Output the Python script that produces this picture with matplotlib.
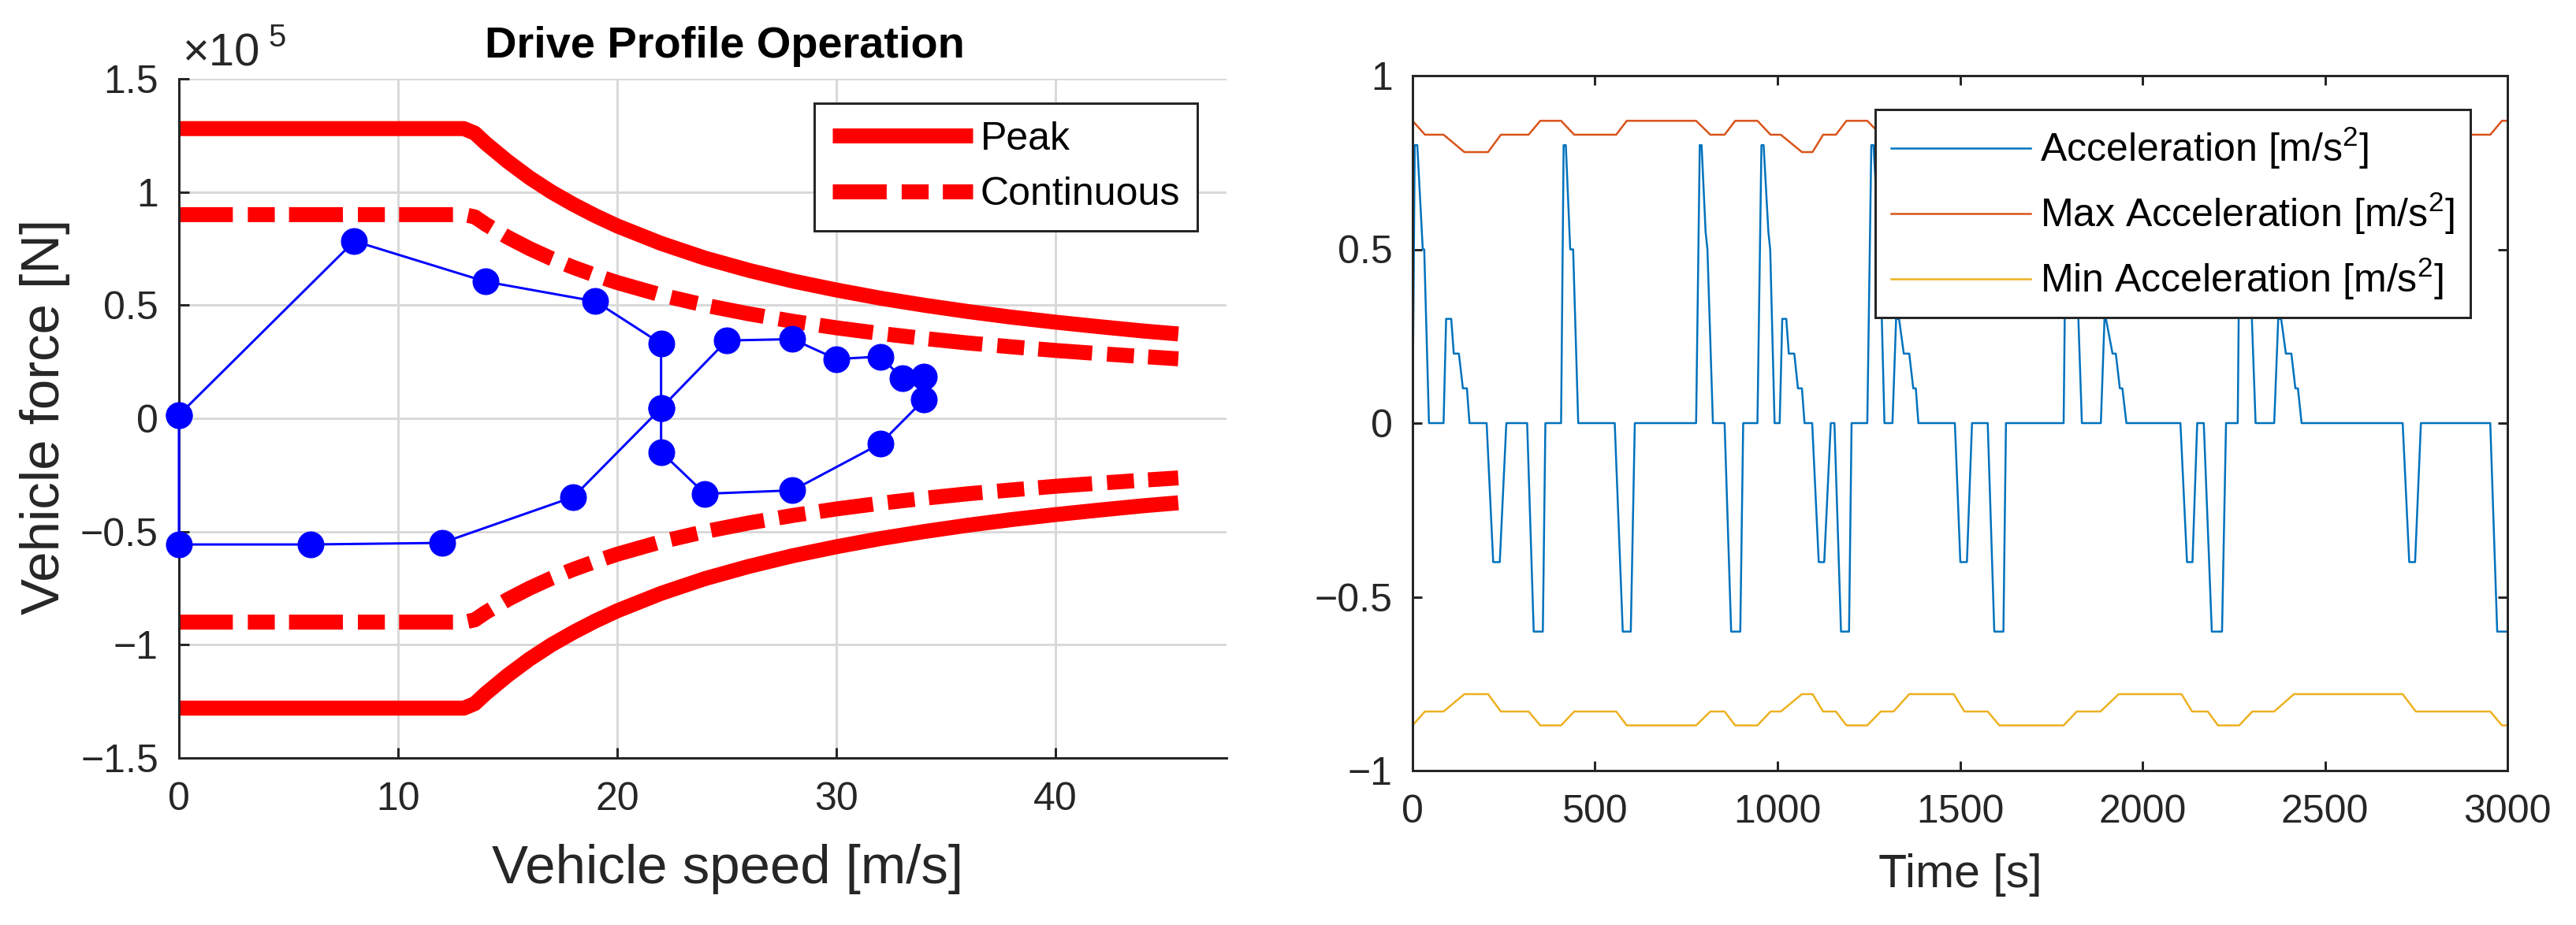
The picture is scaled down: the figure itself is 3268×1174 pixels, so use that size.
import matplotlib
matplotlib.use("Agg")
import matplotlib.pyplot as plt

# ---- Left: drive profile operation (force in 1e5 N) ----
limit_speed = [0, 13.0, 13.5, 14, 15, 16, 17, 18, 19, 20, 22, 24, 26, 28, 30,
               32, 34, 36, 38, 40, 42, 44, 45.6]
peak_force = [1.28, 1.28, 1.26, 1.215, 1.135, 1.063, 1.0, 0.945, 0.895, 0.85,
              0.773, 0.708, 0.654, 0.607, 0.567, 0.531, 0.50, 0.472, 0.447,
              0.425, 0.405, 0.386, 0.373]
cont_force = [0.90, 0.90, 0.89, 0.857, 0.80, 0.75, 0.706, 0.667, 0.632, 0.60,
              0.545, 0.50, 0.462, 0.429, 0.40, 0.375, 0.353, 0.333, 0.316,
              0.30, 0.286, 0.273, 0.263]

profile_speed = [0, 8, 14, 19, 22, 22, 25, 28, 30, 32, 33, 34, 34, 32, 28, 24,
                 22, 22, 18, 12, 6, 0, 0]
profile_force = [0.015, 0.783, 0.604, 0.517, 0.33, 0.045, 0.344, 0.35, 0.262,
                 0.273, 0.178, 0.184, 0.083, -0.112, -0.318, -0.333, -0.148,
                 0.045, -0.347, -0.55, -0.557, -0.557, 0.015]

force_ticks = [-1.5, -1, -0.5, 0, 0.5, 1, 1.5]
force_ticklabels = ["\u22121.5", "\u22121", "\u22120.5", "0", "0.5", "1", "1.5"]
speed_ticks = [0, 10, 20, 30, 40]

# ---- Right: acceleration vs time ----
acc_time = [0, 6, 13, 28, 32, 45, 85, 92, 106, 113, 127, 138, 149, 156,
            203, 221, 239, 257, 314, 332, 357, 364, 407, 414, 420, 432, 440, 454,
            554, 576, 598, 609, 777, 787, 792, 803, 808, 823, 855, 873, 898, 906,
            945, 956, 962, 975, 980, 992, 1006, 1013, 1024, 1031, 1046, 1056, 1067, 1074,
            1095, 1113, 1128, 1146, 1156, 1174, 1196, 1203,
            1246, 1257, 1263, 1276, 1281, 1293, 1315, 1325, 1333, 1346, 1361, 1372, 1379, 1386,
            1486, 1501, 1519, 1533, 1576, 1594, 1619, 1626,
            1784, 1792, 1798, 1813, 1818, 1834,
            1886, 1896, 1900, 1918, 1927, 1938, 1945, 1956,
            2104, 2122, 2137, 2150, 2168, 2190, 2218, 2229,
            2261, 2268, 2274, 2288, 2293, 2310,
            2361, 2372, 2380, 2393, 2408, 2419, 2426, 2436,
            2713, 2731, 2747, 2763, 2953, 2972, 3000]
acc_value = [0, 0.8, 0.8, 0.5, 0.5, 0, 0, 0.3, 0.3, 0.2, 0.2, 0.1, 0.1, 0,
             0, -0.4, -0.4, 0, 0, -0.6, -0.6, 0, 0, 0.8, 0.8, 0.5, 0.5, 0,
             0, -0.6, -0.6, 0, 0, 0.8, 0.8, 0.55, 0.5, 0, 0, -0.6, -0.6, 0,
             0, 0.8, 0.8, 0.55, 0.5, 0, 0, 0.3, 0.3, 0.2, 0.2, 0.1, 0.1, 0,
             0, -0.4, -0.4, 0, 0, -0.6, -0.6, 0,
             0, 0.8, 0.8, 0.55, 0.5, 0, 0, 0.3, 0.3, 0.2, 0.2, 0.1, 0.1, 0,
             0, -0.4, -0.4, 0, 0, -0.6, -0.6, 0,
             0, 0.8, 0.8, 0.55, 0.5, 0,
             0, 0.3, 0.3, 0.2, 0.2, 0.1, 0.1, 0,
             0, -0.4, -0.4, 0, 0, -0.6, -0.6, 0,
             0, 0.8, 0.8, 0.55, 0.5, 0,
             0, 0.3, 0.3, 0.2, 0.2, 0.1, 0.1, 0,
             0, -0.4, -0.4, 0, 0, -0.6, -0.6]

limit_time = [0, 34, 85, 142, 207, 242, 318, 350, 407, 443, 558, 587, 777, 816,
              855, 884, 945, 981, 1009, 1067, 1096, 1125, 1160, 1189, 1246, 1283,
              1318, 1361, 1483, 1512, 1576, 1608, 1784, 1820, 1885, 1935, 2107,
              2136, 2179, 2207, 2265, 2301, 2361, 2415, 2713, 2749, 2953, 2985, 3000]
max_acc = [0.87, 0.83, 0.83, 0.78, 0.78, 0.83, 0.83, 0.87, 0.87, 0.83, 0.83,
           0.87, 0.87, 0.83, 0.83, 0.87, 0.87, 0.83, 0.83, 0.78, 0.78, 0.83,
           0.83, 0.87, 0.87, 0.83, 0.83, 0.78, 0.78, 0.83, 0.83, 0.87, 0.87,
           0.83, 0.83, 0.78, 0.78, 0.83, 0.83, 0.87, 0.87, 0.83, 0.83, 0.78,
           0.78, 0.83, 0.83, 0.87, 0.87]
min_acc = [-0.87, -0.83, -0.83, -0.78, -0.78, -0.83, -0.83, -0.87, -0.87, -0.83,
           -0.83, -0.87, -0.87, -0.83, -0.83, -0.87, -0.87, -0.83, -0.83, -0.78,
           -0.78, -0.83, -0.83, -0.87, -0.87, -0.83, -0.83, -0.78, -0.78, -0.83,
           -0.83, -0.87, -0.87, -0.83, -0.83, -0.78, -0.78, -0.83, -0.83, -0.87,
           -0.87, -0.83, -0.83, -0.78, -0.78, -0.83, -0.83, -0.87, -0.87]

acc_ticks = [-1, -0.5, 0, 0.5, 1]
acc_ticklabels = ["\u22121", "\u22120.5", "0", "0.5", "1"]
time_ticks = [0, 500, 1000, 1500, 2000, 2500, 3000]

plt.rcParams["font.family"] = ["Liberation Sans", "DejaVu Sans"]
plt.rcParams["mathtext.fontset"] = "custom"
plt.rcParams["mathtext.rm"] = "Liberation Sans"
plt.rcParams["mathtext.it"] = "Liberation Sans:italic"

W, H, DPI = 3268, 1174, 72
GREY = "#262626"
fig = plt.figure(figsize=(W / DPI, H / DPI), dpi=DPI)


def px_box(left, top, right, bottom):
    return [left / W, 1 - bottom / H, (right - left) / W, (bottom - top) / H]


# ===== left panel =====
ax1 = fig.add_axes(px_box(227, 100, 1556, 962))
dash = (0, (3.6, 1.0, 1.8, 0.95))
ax1.plot(limit_speed, peak_force, color="red", lw=19, solid_capstyle="butt",
         solid_joinstyle="round", label="Peak")
ax1.plot(limit_speed, cont_force, color="red", lw=19, ls=dash,
         dash_capstyle="butt", label="Continuous")
ax1.plot(limit_speed, [-f for f in peak_force], color="red", lw=19,
         solid_capstyle="butt", solid_joinstyle="round")
ax1.plot(limit_speed, [-f for f in cont_force], color="red", lw=19, ls=dash,
         dash_capstyle="butt")
ax1.plot(profile_speed, profile_force, "-o", color="blue", lw=3, ms=33,
         clip_on=False, zorder=4)

ax1.set_xlim(0, 47.8)
ax1.set_ylim(-1.5, 1.5)
ax1.set_xticks(speed_ticks)
ax1.set_yticks(force_ticks)
ax1.set_yticklabels(force_ticklabels)
ax1.grid(True, color="#d9d9d9", lw=3)
ax1.set_axisbelow(True)
for s in ["top", "right"]:
    ax1.spines[s].set_visible(False)
for s in ["left", "bottom"]:
    ax1.spines[s].set_color(GREY)
    ax1.spines[s].set_linewidth(3)
ax1.tick_params(axis="x", direction="in", length=13, width=3, colors=GREY,
                labelsize=50, pad=30)
ax1.tick_params(axis="y", direction="in", length=13, width=3, colors=GREY,
                labelsize=50, pad=26)
ax1.set_xlabel("Vehicle speed [m/s]", fontsize=69, color=GREY)
ax1.xaxis.set_label_coords(0.524, -0.126)
ax1.set_ylabel("Vehicle force [N]", fontsize=69, color=GREY)
ax1.yaxis.set_label_coords(-0.104, 0.502)
ax1.text(0.521, 1.031, "Drive Profile Operation", transform=ax1.transAxes,
         ha="center", va="baseline", fontsize=56, fontweight="bold")
fig.text(232 / W, 1 - 84 / H, "\u00d710", fontsize=58, color=GREY,
         ha="left", va="baseline")
fig.text(340 / W, 1 - 59 / H, "5", fontsize=40, color=GREY,
         ha="left", va="baseline")

leg1 = ax1.legend(loc="upper left", bbox_to_anchor=(1033 / W, 1 - 131 / H),
                  bbox_transform=fig.transFigure, borderaxespad=0, fontsize=50,
                  handlelength=3.56, handletextpad=0.2, borderpad=0.45,
                  labelspacing=0.5, fancybox=False, framealpha=1,
                  edgecolor=GREY)
leg1.get_frame().set_linewidth(3)
leg1.set_zorder(10)

# ===== right panel =====
ax2 = fig.add_axes(px_box(1792, 96, 3181, 978))
ax2.plot(acc_time, acc_value, color="#0072BD", lw=2.5,
         label="Acceleration [m/s$^{2}$]")
ax2.plot(limit_time, max_acc, color="#D95319", lw=2.5,
         label="Max Acceleration [m/s$^{2}$]")
ax2.plot(limit_time, min_acc, color="#EDB120", lw=2.5,
         label="Min Acceleration [m/s$^{2}$]")
ax2.set_xlim(0, 3000)
ax2.set_ylim(-1, 1)
ax2.set_xticks(time_ticks)
ax2.set_yticks(acc_ticks)
ax2.set_yticklabels(acc_ticklabels)
for s in ax2.spines.values():
    s.set_color(GREY)
    s.set_linewidth(3)
ax2.tick_params(axis="both", direction="in", top=True, right=True, length=12,
                width=3, colors=GREY, labelsize=50)
ax2.tick_params(axis="x", pad=30)
ax2.tick_params(axis="y", pad=25)
ax2.set_xlabel("Time [s]", fontsize=59, color=GREY)
ax2.xaxis.set_label_coords(0.5, -0.119)

leg2 = ax2.legend(loc="upper left", bbox_to_anchor=(2379 / W, 1 - 139 / H),
                  bbox_transform=fig.transFigure, borderaxespad=0, fontsize=50,
                  handlelength=3.54, handletextpad=0.25, borderpad=0.4,
                  labelspacing=0.5, fancybox=False, framealpha=1,
                  edgecolor=GREY)
leg2.get_frame().set_linewidth(3)

fig.savefig("out.png", dpi=DPI)
plt.close(fig)
